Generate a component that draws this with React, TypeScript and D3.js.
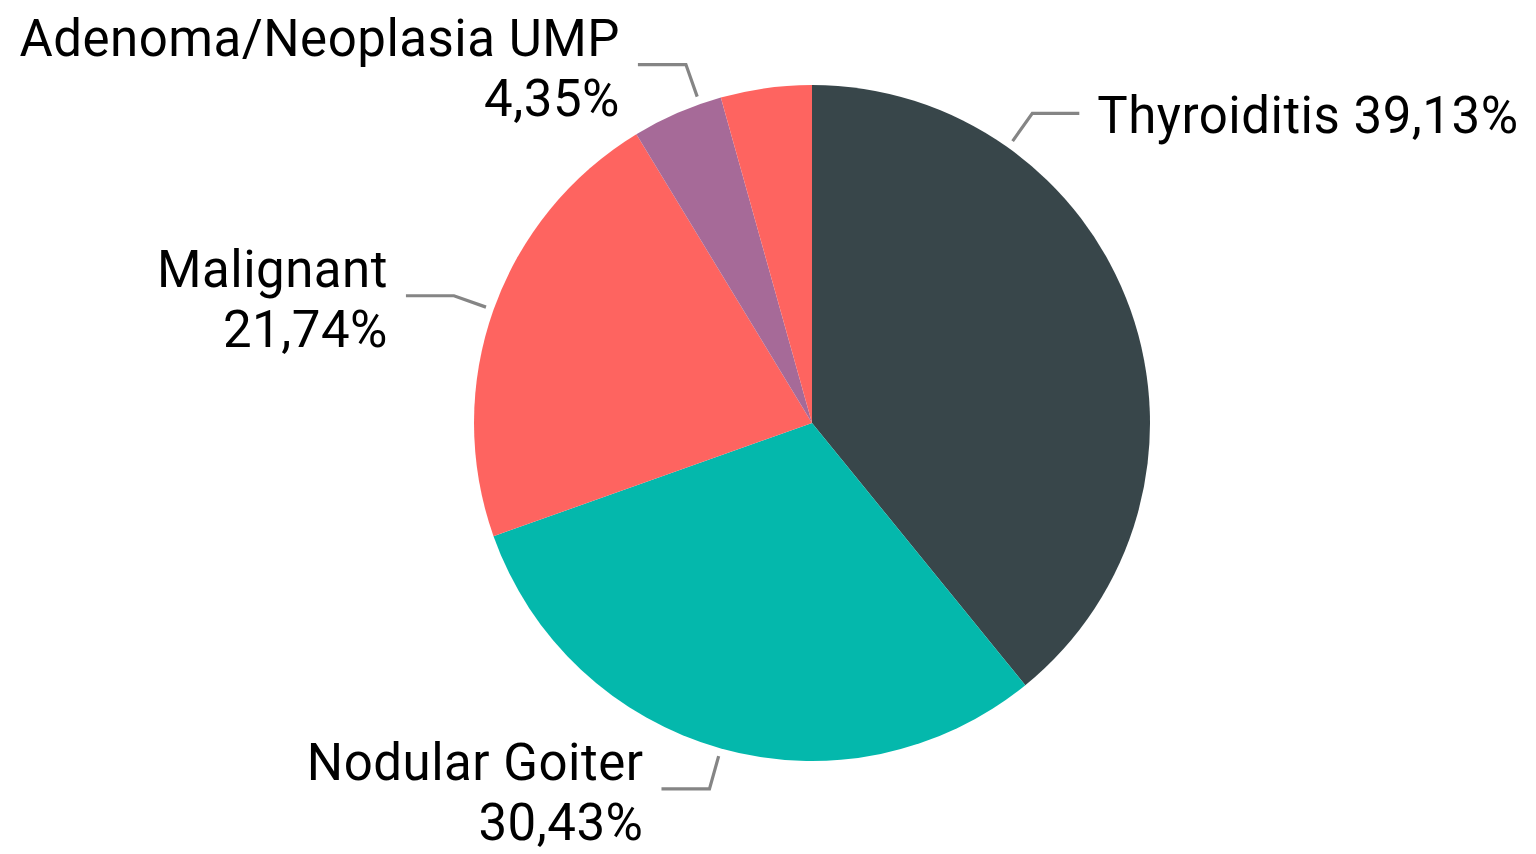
import React from "react";
import * as d3 from "d3";

// chart values
const categories = ["Thyroiditis", "Nodular Goiter", "Malignant", "Adenoma/Neoplasia UMP", "Other"];
const cases = [9, 7, 5, 1, 1];
const sliceColors = ["#38464A", "#04B8AC", "#FE6460", "#A66A98", "#FE6460"];
const showLabel = [true, true, true, true, false];
// labels that sit on one line
const singleLine = [true, false, false, false, false];
// degrees the label anchor was shifted away from the slice middle
const anchorShift = [-35, 0, 0, 4.1, 0];

const width = 1536,
  height = 854;
const cx = 812,
  cy = 423,
  radius = 338;

export default function App() {
  const total = d3.sum(cases);
  const pct = (v: number) => ((v / total) * 100).toFixed(2).replace(".", ",") + "%";

  const pie = d3
    .pie<number>()
    .sort(null)
    .value((d) => d);
  const arcs = pie(cases);

  const arc = d3.arc<d3.PieArcDatum<number>>().innerRadius(0).outerRadius(radius);

  const polar = (angle: number, r: number): [number, number] => [
    cx + r * Math.sin(angle),
    cy - r * Math.cos(angle),
  ];

  return (
    <svg
      width={width}
      height={height}
      style={{ position: "absolute", left: 0, top: 0, background: "#fff" }}
      fontFamily="Roboto"
    >
      <g transform={`translate(${cx},${cy})`}>
        {arcs.map((a, i) => (
          <path key={i} d={arc(a) || ""} fill={sliceColors[i]} />
        ))}
      </g>
      {arcs.map((a, i) => {
        if (!showLabel[i]) return null;
        const mid = (a.startAngle + a.endAngle) / 2 + (anchorShift[i] * Math.PI) / 180;
        const p0 = polar(mid, radius + 8);
        const p1 = polar(mid, radius + 42);
        const right = Math.sin(mid) > 0;
        const p2: [number, number] = [p1[0] + (right ? 47 : -48), p1[1]];
        const tx = p2[0] + (right ? 18 : -18);
        const anchor = right ? "start" : "end";
        const name = categories[i];
        const value = pct(cases[i]);
        return (
          <g key={i}>
            <polyline
              points={[p0, p1, p2].map((p) => p.join(",")).join(" ")}
              fill="none"
              stroke="#858585"
              strokeWidth={3.2}
            />
            {singleLine[i] ? (
              <text x={tx} y={p2[1] + 20} textAnchor={anchor} fontSize={51} letterSpacing={0.5} fill="#000">
                {name} {value}
              </text>
            ) : (
              <text textAnchor={anchor} fontSize={51} letterSpacing={0.5} fill="#000">
                <tspan x={tx} y={p2[1] - 9}>
                  {name}
                </tspan>
                <tspan x={tx} y={p2[1] + 51}>
                  {value}
                </tspan>
              </text>
            )}
          </g>
        );
      })}
    </svg>
  );
}
